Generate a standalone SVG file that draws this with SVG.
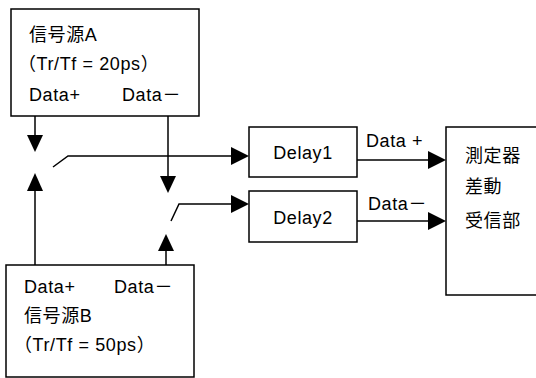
<svg xmlns="http://www.w3.org/2000/svg" width="536" height="378" viewBox="0 0 536 378">
<style>
.box{fill:#fff;stroke:#000;stroke-width:1.5}
.ln{fill:none;stroke:#000;stroke-width:1.5}
.ah{fill:#000;stroke:none}
text{font-family:"Liberation Sans","Noto Sans CJK JP",sans-serif;font-size:18px;letter-spacing:0.6px;fill:#000}
</style>
<rect width="536" height="378" fill="#fff"/>
<g id="sourceA">
<rect class="box" x="11" y="9" width="188" height="107"/>
<text x="29" y="41">信号源A</text>
<text x="18" y="70">（Tr/Tf = 20ps）</text>
<text x="29" y="101">Data+</text>
<text x="122" y="101">Data－</text>
</g>
<g id="sourceB">
<rect class="box" x="6" y="265" width="188" height="112"/>
<text x="24" y="293">Data+</text>
<text x="114" y="293">Data－</text>
<text x="24" y="322">信号源B</text>
<text x="14" y="351">（Tr/Tf = 50ps）</text>
</g>
<g id="delay1">
<rect class="box" x="249" y="127" width="108" height="50"/>
<text x="303" y="159" text-anchor="middle">Delay1</text>
</g>
<g id="delay2">
<rect class="box" x="249" y="191" width="108" height="51"/>
<text x="303" y="224" text-anchor="middle">Delay2</text>
</g>
<g id="receiver">
<rect class="box" x="446" y="127" width="100" height="168"/>
<text x="465" y="162">測定器</text>
<text x="465" y="193">差動</text>
<text x="465" y="227">受信部</text>
</g>
<g id="connectors">
<line class="ln" x1="35" y1="116" x2="35" y2="136"/>
<polygon class="ah" points="35,152 27,135 43,135"/>
<line class="ln" x1="168" y1="116" x2="168" y2="177"/>
<polygon class="ah" points="168,193 160,176 176,176"/>
<line class="ln" x1="35" y1="265" x2="35" y2="190"/>
<polygon class="ah" points="35,173 27,191 43,191"/>
<line class="ln" x1="166" y1="265" x2="166" y2="250"/>
<polygon class="ah" points="166,234 158,251 174,251"/>
<polyline class="ln" points="53,167 68,156 232,156"/>
<polygon class="ah" points="249,156 231,147 231,165"/>
<polyline class="ln" points="171,221 179,204 232,204"/>
<polygon class="ah" points="249,204 231,195 231,213"/>
<line class="ln" x1="357" y1="160" x2="429" y2="160"/>
<polygon class="ah" points="446,160 428,151 428,169"/>
<line class="ln" x1="357" y1="221" x2="429" y2="221"/>
<polygon class="ah" points="446,221 428,212 428,230"/>
<text x="366" y="147">Data +</text>
<text x="368" y="210">Data－</text>
</g>
</svg>
